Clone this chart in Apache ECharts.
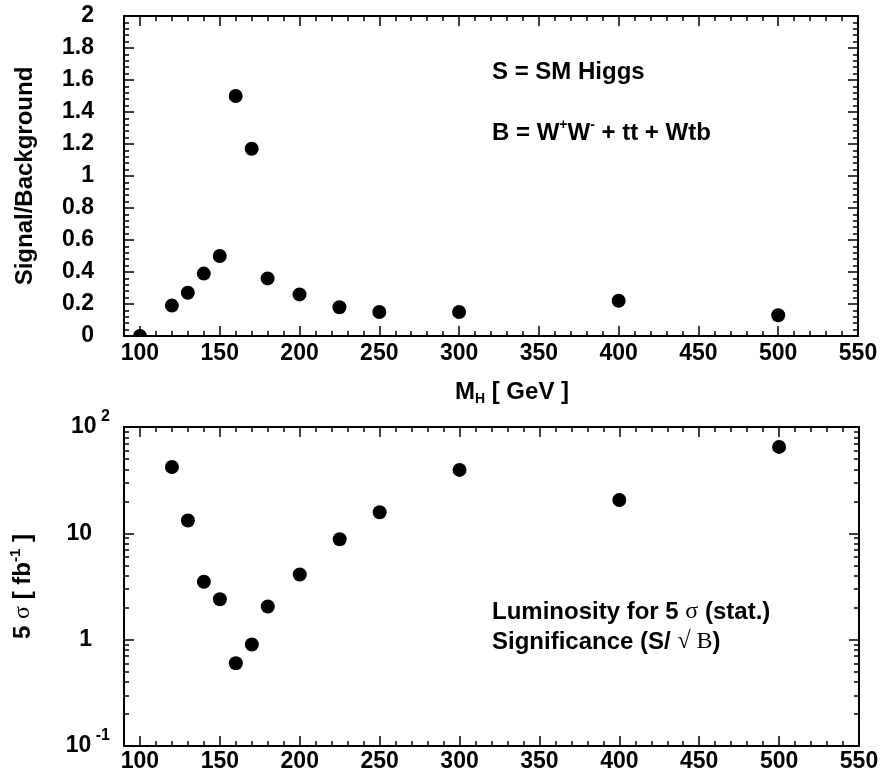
<!DOCTYPE html>
<html>
<head>
<meta charset="utf-8">
<title>Higgs S/B and 5 sigma luminosity</title>
<script src="https://cdn.jsdelivr.net/npm/echarts@6/dist/echarts.min.js"></script>
<style>
  html, body { margin: 0; padding: 0; background: #fff; }
  #chart { width: 885px; height: 782px; }
</style>
</head>
<body>
<div id="chart"></div>
<script>
// top panel: signal / background vs Higgs mass
const sbMass = [100, 120, 130, 140, 150, 160, 170, 180, 200, 225, 250, 300, 400, 500];
const sbRatio = [0, 0.19, 0.27, 0.39, 0.5, 1.5, 1.17, 0.36, 0.26, 0.18, 0.15, 0.15, 0.22, 0.13];

// bottom panel: luminosity needed for 5 sigma
const lumiMass = [120, 130, 140, 150, 160, 170, 180, 200, 225, 250, 300, 400, 500];
const lumi5Sigma = [42, 13.2, 3.5, 2.4, 0.6, 0.9, 2.05, 4.1, 8.8, 15.8, 39.5, 20.6, 65];

// tick labels
const massTicks = [100, 150, 200, 250, 300, 350, 400, 450, 500, 550];
const lumiTickValues = [0.1, 1, 10, 100];
const lumiTickBase = ['10', '1', '10', '10'];
const lumiTickSup = ['-1', '', '', '2'];

const FONT = '"Liberation Sans", Arial, sans-serif';
const SERIF = '"Liberation Serif", "DejaVu Serif", serif';

// minor tick positions
const massMinor = [];
for (let m = 100; m <= 550; m += 10) {
  if (m % 50 !== 0) massMinor.push(m);
}
const lumiMinorLog = [];
for (let e = -1; e < 2; e++) {
  for (let k = 2; k <= 9; k++) lumiMinorLog.push(Math.log10(k * Math.pow(10, e)));
}

const chart = echarts.init(document.getElementById('chart'));

const frameLine = { show: true, onZero: false, lineStyle: { color: '#000', width: 2 } };
const noLine = { show: false, onZero: false };
const tickLine = { color: '#000', width: 1.5 };

function massAxis(gridIndex, position, major, opts) {
  return Object.assign({
    type: 'value',
    gridIndex: gridIndex,
    position: position,
    min: 90,
    max: 550,
    axisLine: major ? frameLine : noLine,
    axisTick: {
      show: true,
      inside: true,
      length: major ? 10 : 5,
      customValues: major ? massTicks : massMinor,
      lineStyle: tickLine,
    },
    axisLabel: { show: false },
    splitLine: { show: false },
  }, opts || {});
}

const tickLabelStyle = {
  color: '#000',
  fontFamily: FONT,
  fontWeight: 'bold',
  fontSize: 23,
};

const xAxes = [
  massAxis(0, 'bottom', true, {
    axisLabel: Object.assign({ show: true, customValues: massTicks, margin: 6 }, tickLabelStyle),
    name: '{m|M}{sub|H}{m| [ GeV ]}',
    nameLocation: 'middle',
    nameGap: 42,
    nameTextStyle: {
      padding: [0, 0, 0, 42],
      rich: {
        m: { fontFamily: FONT, fontWeight: 'bold', fontSize: 24, color: '#000', lineHeight: 28 },
        sub: { fontFamily: FONT, fontWeight: 'bold', fontSize: 14, color: '#000', verticalAlign: 'bottom', lineHeight: 28 },
      },
    },
  }),
  massAxis(0, 'bottom', false),
  massAxis(0, 'top', true),
  massAxis(0, 'top', false),
  massAxis(1, 'bottom', true, {
    axisLabel: Object.assign({ show: true, customValues: massTicks, margin: 4 }, tickLabelStyle),
  }),
  massAxis(1, 'bottom', false),
  massAxis(1, 'top', true),
  massAxis(1, 'top', false),
];

function ratioAxis(position, withLabels) {
  return {
    type: 'value',
    gridIndex: 0,
    position: position,
    min: 0,
    max: 2,
    interval: 0.2,
    axisLine: frameLine,
    axisTick: { show: true, inside: true, length: 10, lineStyle: tickLine },
    minorTick: { show: true, splitNumber: 5, length: 5, lineStyle: tickLine },
    axisLabel: withLabels
      ? Object.assign({ show: true, margin: 30 }, tickLabelStyle)
      : { show: false },
    splitLine: { show: false },
  };
}

function lumiLogAxis(position, withLabels) {
  return {
    type: 'log',
    logBase: 10,
    gridIndex: 1,
    position: position,
    min: 0.1,
    max: 100,
    axisLine: frameLine,
    axisTick: { show: true, inside: true, length: 10, lineStyle: tickLine },
    axisLabel: withLabels
      ? {
          show: true,
          margin: 14,
          formatter: function (val) {
            const i = lumiTickValues.findIndex(v => Math.abs(v - val) < 1e-6 * v);
            if (i < 0) return '';
            if (lumiTickSup[i]) return '{n|' + lumiTickBase[i] + '}{sup| ' + lumiTickSup[i] + '}';
            return '{n|' + lumiTickBase[i] + '}{gap|}';
          },
          rich: {
            n: { fontFamily: FONT, fontWeight: 'bold', fontSize: 23, color: '#000', lineHeight: 36 },
            sup: { fontFamily: FONT, fontWeight: 'bold', fontSize: 16, color: '#000', verticalAlign: 'top', lineHeight: 36 },
            gap: { width: 18 },
          },
        }
      : { show: false },
    splitLine: { show: false },
  };
}

function lumiMinorAxis(position) {
  return {
    type: 'value',
    gridIndex: 1,
    position: position,
    min: -1,
    max: 2,
    axisLine: noLine,
    axisTick: { show: true, inside: true, length: 5, customValues: lumiMinorLog, lineStyle: tickLine },
    axisLabel: { show: false },
    splitLine: { show: false },
  };
}

const topLeft = ratioAxis('left', true);
topLeft.name = 'Signal/Background';
topLeft.nameLocation = 'middle';
topLeft.nameGap = 87;
topLeft.nameTextStyle = { fontFamily: FONT, fontWeight: 'bold', fontSize: 24, color: '#000' };

const bottomLeft = lumiLogAxis('left', true);
bottomLeft.name = '{n|5 }{s|σ}{n| [ fb}{sup|-1}{n| ]}';
bottomLeft.nameLocation = 'middle';
bottomLeft.nameGap = 86;
bottomLeft.nameTextStyle = {
  rich: {
    n: { fontFamily: FONT, fontWeight: 'bold', fontSize: 24, color: '#000', lineHeight: 30 },
    s: { fontFamily: SERIF, fontSize: 24, color: '#000', lineHeight: 30 },
    sup: { fontFamily: FONT, fontWeight: 'bold', fontSize: 15, color: '#000', verticalAlign: 'top', lineHeight: 30 },
  },
};

const yAxes = [
  topLeft,
  ratioAxis('right', false),
  bottomLeft,
  lumiMinorAxis('left'),
  lumiLogAxis('right', false),
  lumiMinorAxis('right'),
];

// point at S/B = 0 sits on the axis, only its upper half is visible
const sbData = sbMass.map((m, i) => {
  if (sbRatio[i] === 0) {
    return {
      value: [m, sbRatio[i]],
      symbol: 'path://M0,7 A7,7 0 0,1 14,7 Z',
      symbolSize: [14, 7],
      symbolOffset: [0, '-50%'],
    };
  }
  return [m, sbRatio[i]];
});
const lumiData = lumiMass.map((m, i) => [m, lumi5Sigma[i]]);

const annoRich = {
  b: { fontFamily: FONT, fontWeight: 'bold', fontSize: 24, color: '#000', lineHeight: 30 },
  sup: { fontFamily: FONT, fontWeight: 'bold', fontSize: 14, color: '#000', verticalAlign: 'top', lineHeight: 30 },
  s: { fontFamily: SERIF, fontSize: 24, color: '#000', lineHeight: 30 },
};

function annotation(x, y, text) {
  return {
    type: 'text',
    x: x,
    y: y,
    style: { text: text, rich: annoRich, verticalAlign: 'middle', align: 'left' },
  };
}

const option = {
  backgroundColor: '#fff',
  animation: false,
  grid: [
    { left: 124, top: 16, right: 27, height: 320 },
    { left: 124, top: 427, right: 26, height: 319 },
  ],
  xAxis: xAxes,
  yAxis: yAxes,
  series: [
    {
      type: 'scatter',
      xAxisIndex: 0,
      yAxisIndex: 0,
      symbolSize: 14,
      itemStyle: { color: '#000', opacity: 1 },
      data: sbData,
    },
    {
      type: 'scatter',
      xAxisIndex: 4,
      yAxisIndex: 2,
      symbolSize: 14,
      itemStyle: { color: '#000', opacity: 1 },
      data: lumiData,
    },
  ],
  graphic: [
    annotation(492, 72, '{b|S = SM Higgs}'),
    annotation(492, 133, '{b|B = W}{sup|+}{b|W}{sup|-}{b| + tt + Wtb}'),
    annotation(492, 612, '{b|Luminosity for 5 }{s|σ}{b| (stat.)}'),
    annotation(492, 642, '{b|Significance (S/ }{s|√ B}{b|)}'),
  ],
};

chart.setOption(option);

window.addEventListener('resize', () => chart.resize());
</script>
</body>
</html>
